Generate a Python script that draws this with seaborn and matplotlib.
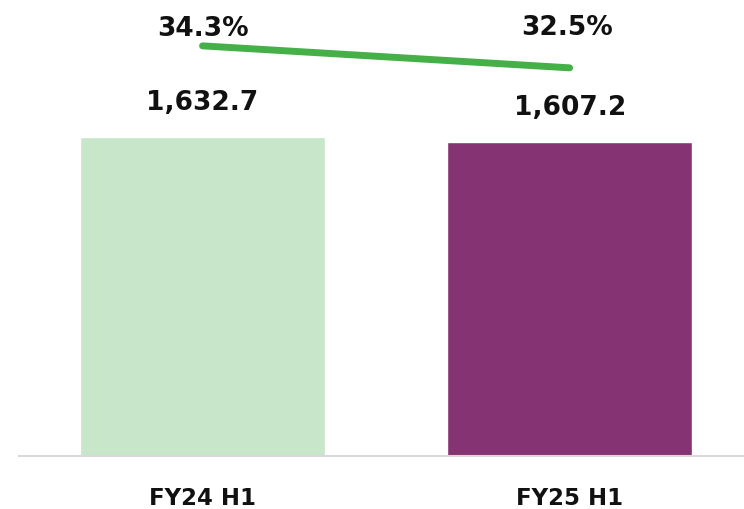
import matplotlib
matplotlib.use("Agg")
import matplotlib.pyplot as plt
import pandas as pd
import seaborn as sns

# data
periods = ["FY24 H1", "FY25 H1"]
revenue = [1632.7, 1607.2]
margin_pct = [34.3, 32.5]
bar_colors = ["#C8E6C9", "#863373"]

sns.set_style("white")
plt.rcParams["font.family"] = ["DejaVu Sans"]
plt.rcParams["text.color"] = "#111111"
plt.rcParams["xtick.color"] = "#111111"

df = pd.DataFrame({"period": periods, "revenue": revenue, "margin": margin_pct})

fig = plt.figure(figsize=(7.44, 5.09), dpi=100)
ax = fig.add_axes([19 / 744, 53 / 509, 725 / 744, 456 / 509])

# bars
sns.barplot(
    data=df,
    x="period",
    y="revenue",
    hue="period",
    palette=bar_colors,
    saturation=1,
    width=0.667,
    legend=False,
    ax=ax,
)
ax.set_xlim(-0.5, 1.475)
ax.set_ylim(0, 2334)
ax.set_xlabel("")
ax.set_ylabel("")
ax.set_yticks([])
ax.tick_params(axis="x", length=0, pad=22)
for lbl in ax.get_xticklabels():
    lbl.set_fontsize(16.5)
    lbl.set_fontweight("bold")
for side in ["top", "right", "left"]:
    ax.spines[side].set_visible(False)
ax.spines["bottom"].set_color("#D9D9D9")
ax.spines["bottom"].set_linewidth(1.5)

for i, v in enumerate(revenue):
    ax.annotate(
        "{:,.1f}".format(v),
        (i, v),
        xytext=(0, 15),
        textcoords="offset points",
        ha="center",
        va="bottom",
        fontsize=19,
        fontweight="bold",
    )

# margin line on a second axis
ax2 = ax.twinx()
sns.lineplot(
    x=[0, 1],
    y=margin_pct,
    color="#46B048",
    linewidth=5,
    solid_capstyle="round",
    ax=ax2,
)
ax2.set_ylim(0.75, 38.05)
ax2.set_xlim(-0.5, 1.475)
ax2.set_yticks([])
ax2.axis("off")

for i, v in enumerate(margin_pct):
    ax2.annotate(
        "{:.1f}%".format(v),
        (i, v),
        xytext=(0 if i == 0 else -2, 3 if i == 0 else 19),
        textcoords="offset points",
        ha="center",
        va="bottom",
        fontsize=19,
        fontweight="bold",
    )

fig.savefig("out.png", dpi=100)
